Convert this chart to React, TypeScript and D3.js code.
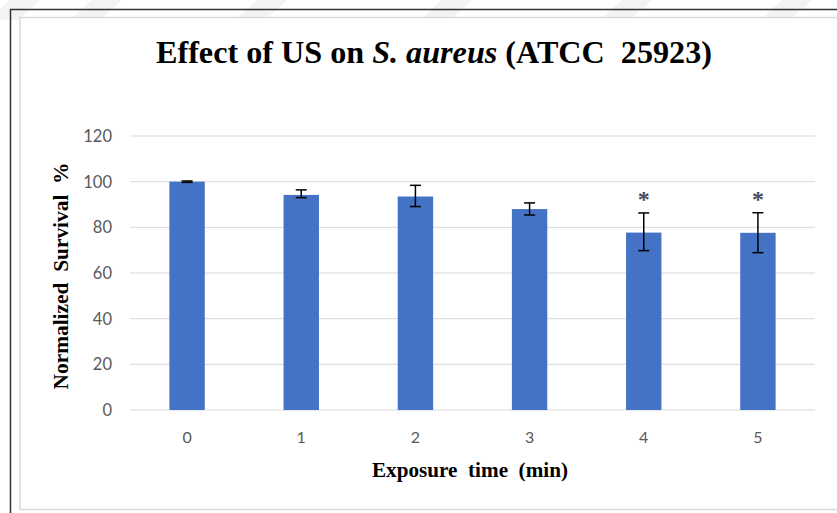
import React from "react";
import * as d3 from "d3";

const categories = ["0", "1", "2", "3", "4", "5"];
const survival = [100, 94.2, 93.5, 88, 77.7, 77.6];
const errorUp = [0.3, 2.2, 4.9, 2.7, 8.6, 8.8];
const errorDown = [0.3, 1.2, 4.4, 2.6, 7.9, 8.7];
const significant = [false, false, false, false, true, true];
const yTicks = [0, 20, 40, 60, 80, 100, 120];

const W = 837;
const H = 513;
const plot = { left: 130, right: 815, top: 136, bottom: 410 };

export default function App() {
  const x = d3
    .scaleBand<string>()
    .domain(categories)
    .range([plot.left, plot.right])
    .paddingInner(0.69)
    .paddingOuter(0.345);
  const y = d3.scaleLinear().domain([0, 120]).range([plot.bottom, plot.top]);
  const bw = x.bandwidth();
  const cap = 5.5;

  const serif = "'Liberation Serif', 'Times New Roman', serif";
  const sans = "Lato, 'Open Sans', sans-serif";

  return (
    <svg
      width={W}
      height={H}
      style={{ position: "absolute", left: 0, top: 0, background: "#fff" }}
    >
      {/* faint diagonal bands along the top edge */}
      <g fill="#f3f3f3">
        {[-12, 70, 235, 420, 600, 760].map((bx, i) => (
          <polygon
            key={i}
            points={`${bx + 22},0 ${bx + 52},0 ${bx + 30},20 ${bx},20`}
          />
        ))}
      </g>

      {/* frame */}
      <line x1={10.5} y1={9} x2={10.5} y2={H} stroke="#333" strokeWidth={1.5} />
      <line x1={10} y1={9.5} x2={W} y2={9.5} stroke="#333" strokeWidth={1.5} />
      <rect
        x={20}
        y={17.5}
        width={W}
        height={492}
        fill="#fff"
        stroke="#d9d9d9"
        strokeWidth={1.5}
      />

      {/* title */}
      <text
        x={434}
        y={63}
        textAnchor="middle"
        fontFamily={serif}
        fontWeight="bold"
        fontSize={31}
        fill="#000"
        textLength={556}
        lengthAdjust="spacingAndGlyphs"
        xmlSpace="preserve"
      >
        <tspan>Effect of US on </tspan>
        <tspan fontStyle="italic">S. aureus</tspan>
        <tspan> (ATCC  25923)</tspan>
      </text>

      {/* gridlines */}
      <g>
        {yTicks.map((t) => (
          <line
            key={t}
            x1={plot.left}
            x2={plot.right}
            y1={y(t)}
            y2={y(t)}
            stroke="#d9d9d9"
            strokeWidth={1}
          />
        ))}
      </g>

      {/* y tick labels */}
      <g fontFamily={sans} fontSize={16.5} fill="#595959">
        {yTicks.map((t) => (
          <text key={t} x={112} y={y(t) + 6} textAnchor="end">
            {t}
          </text>
        ))}
      </g>

      {/* bars */}
      <g fill="#4472c4">
        {categories.map((c, i) => (
          <rect
            key={c}
            x={x(c)}
            y={y(survival[i])}
            width={bw}
            height={y(0) - y(survival[i])}
          />
        ))}
      </g>

      {/* error bars */}
      <g stroke="#000" strokeWidth={1.5}>
        {categories.map((c, i) => {
          const cx = (x(c) as number) + bw / 2;
          const hi = y(survival[i] + errorUp[i]);
          const lo = y(survival[i] - errorDown[i]);
          return (
            <g key={c}>
              <line x1={cx} x2={cx} y1={hi} y2={lo} />
              <line x1={cx - cap} x2={cx + cap} y1={hi} y2={hi} />
              <line x1={cx - cap} x2={cx + cap} y1={lo} y2={lo} />
            </g>
          );
        })}
      </g>

      {/* significance marks */}
      <g fontFamily={serif} fontWeight="bold" fontSize={24} fill="#4a4a5a">
        {categories.map((c, i) =>
          significant[i] ? (
            <text
              key={c}
              x={(x(c) as number) + bw / 2}
              y={y(survival[i] + errorUp[i]) - 6}
              textAnchor="middle"
            >
              *
            </text>
          ) : null
        )}
      </g>

      {/* x tick labels */}
      <g fontFamily={sans} fontSize={16} fill="#595959">
        {categories.map((c) => (
          <text
            key={c}
            x={(x(c) as number) + bw / 2}
            y={443}
            textAnchor="middle"
          >
            {c}
          </text>
        ))}
      </g>

      {/* axis titles */}
      <text
        x={470}
        y={477}
        textAnchor="middle"
        fontFamily={serif}
        fontWeight="bold"
        fontSize={21}
        fill="#000"
        xmlSpace="preserve"
        textLength={196}
        lengthAdjust="spacingAndGlyphs"
      >
        Exposure  time  (min)
      </text>
      <text
        transform={`translate(68,276) rotate(-90)`}
        textAnchor="middle"
        fontFamily={serif}
        fontWeight="bold"
        fontSize={21}
        fill="#000"
        xmlSpace="preserve"
        textLength={227}
        lengthAdjust="spacingAndGlyphs"
      >
        Normalized  Survival  %
      </text>
    </svg>
  );
}
